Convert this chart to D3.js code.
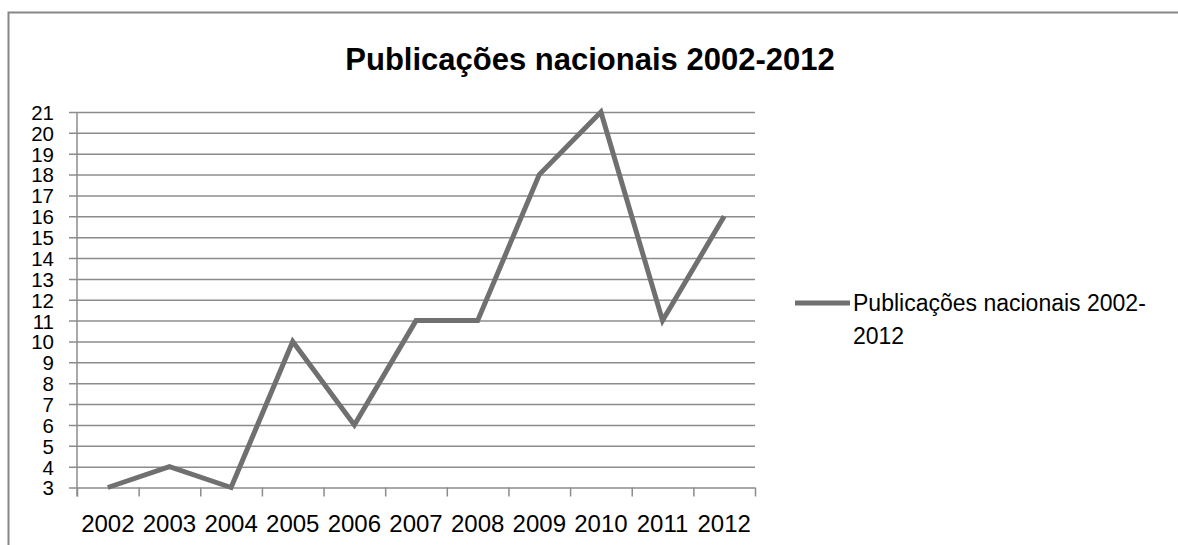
<!DOCTYPE html>
<html>
<head>
<meta charset="utf-8">
<script src="https://cdn.jsdelivr.net/npm/d3@7"></script>
<style>
  body { margin: 0; background: #fff; }
  text { font-family: "Liberation Sans", Arial, sans-serif; fill: #000; }
</style>
</head>
<body>
<svg id="chart" width="1178" height="545"></svg>
<script>
const years = ["2002", "2003", "2004", "2005", "2006", "2007", "2008", "2009", "2010", "2011", "2012"];
const publications = [3, 4, 3, 10, 6, 11, 11, 18, 21, 11, 16];
const yTicks = [3, 4, 5, 6, 7, 8, 9, 10, 11, 12, 13, 14, 15, 16, 17, 18, 19, 20, 21];
const title = "Publicações nacionais 2002-2012";
const legendLines = ["Publicações nacionais 2002-", "2012"];

const svg = d3.select("#chart");

const margin = {top: 112, left: 77, bottom: 57, right: 423};
const width = 1178 - margin.left - margin.right;
const height = 545 - margin.top - margin.bottom - 0.5;

const gridColor = "#8c8c8c";
const lineColor = "#707070";

// outer frame
svg.append("path")
  .attr("d", "M8.5,545 L8.5,12.5 L1178,12.5")
  .attr("fill", "none")
  .attr("stroke", "#878787")
  .attr("stroke-width", 2);

svg.append("text")
  .attr("x", 590)
  .attr("y", 70)
  .attr("text-anchor", "middle")
  .attr("font-size", 31)
  .attr("font-weight", "bold")
  .text(title);

const g = svg.append("g").attr("transform", `translate(${margin.left}, ${margin.top})`);

const xScale = d3.scaleBand().domain(years).range([0, width]);
const edgeScale = d3.scaleLinear().domain([0, years.length]).range([0, width]);
const yScale = d3.scaleLinear().domain([3, 21]).range([height, 0]);

// horizontal gridlines + y labels
const yAxis = d3.axisLeft(yScale)
  .tickValues(yTicks)
  .tickSizeInner(-width)
  .tickSizeOuter(0)
  .tickFormat(d3.format("d"));

const yAxisGroup = g.append("g").attr("class", "yaxis").call(yAxis);
yAxisGroup.select(".domain").remove();
yAxisGroup.selectAll(".tick line")
  .attr("x1", -8)
  .attr("stroke", gridColor)
  .attr("stroke-width", 1.5);
yAxisGroup.selectAll(".tick text")
  .attr("font-size", 20.5)
  .attr("dy", "0.36em")
  .attr("x", -23)
  .style("font-family", "Liberation Sans, Arial, sans-serif");

// vertical axis line
g.append("line")
  .attr("x1", 0).attr("x2", 0)
  .attr("y1", 0).attr("y2", height + 9)
  .attr("stroke", gridColor)
  .attr("stroke-width", 1.5);

// x boundary ticks
const xTickAxis = d3.axisBottom(edgeScale)
  .tickValues(d3.range(0, years.length + 1))
  .tickSize(9)
  .tickFormat("");
const xTickGroup = g.append("g")
  .attr("transform", `translate(0, ${height})`)
  .call(xTickAxis);
xTickGroup.select(".domain").remove();
xTickGroup.selectAll(".tick line")
  .attr("stroke", gridColor)
  .attr("stroke-width", 1.5);

// x labels
const xAxis = d3.axisBottom(xScale).tickSize(0).tickPadding(27);
const xAxisGroup = g.append("g")
  .attr("transform", `translate(0, ${height})`)
  .call(xAxis);
xAxisGroup.select(".domain").remove();
xAxisGroup.selectAll(".tick text")
  .attr("font-size", 24)
  .style("font-family", "Liberation Sans, Arial, sans-serif");

// the series
const line = d3.line()
  .x((d, i) => xScale(years[i]) + xScale.bandwidth() / 2)
  .y((d) => yScale(d));

g.append("path")
  .datum(publications)
  .attr("d", line)
  .attr("fill", "none")
  .attr("stroke", lineColor)
  .attr("stroke-width", 5)
  .attr("stroke-linejoin", "miter");

// legend
const legend = svg.append("g").attr("transform", "translate(795, 303)");
legend.append("line")
  .attr("x1", 0).attr("x2", 55)
  .attr("y1", 0).attr("y2", 0)
  .attr("stroke", lineColor)
  .attr("stroke-width", 5);
legend.selectAll("text.legend")
  .data(legendLines)
  .enter()
  .append("text")
  .attr("class", "legend")
  .attr("x", 58)
  .attr("y", (d, i) => 8 + i * 33)
  .attr("font-size", 23)
  .text((d) => d);
</script>
</body>
</html>
